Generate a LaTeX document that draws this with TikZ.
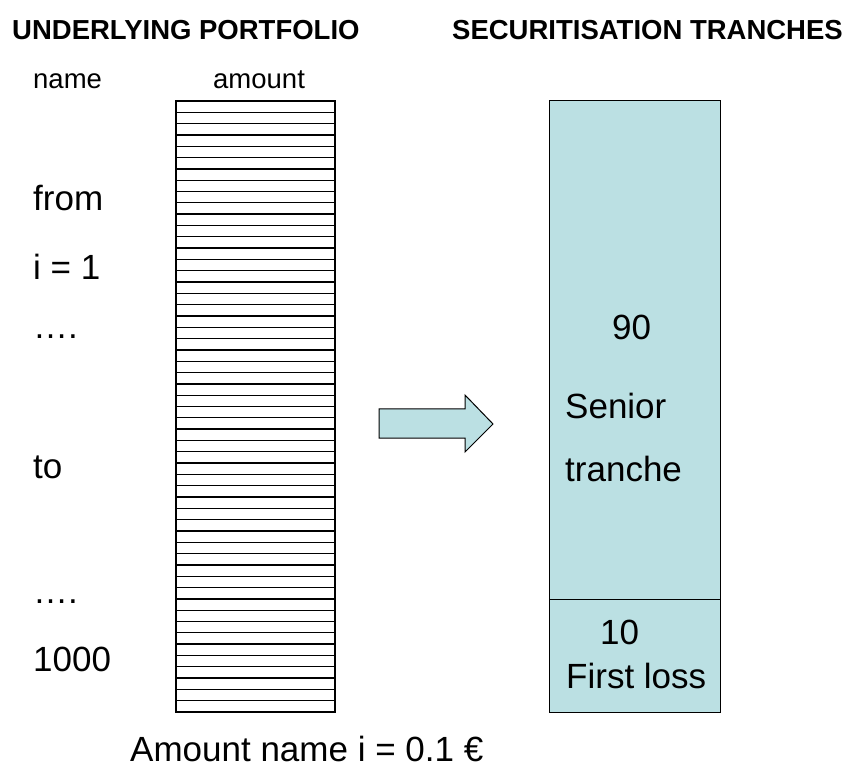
\documentclass[tikz,border=0pt]{standalone}
\usepackage{fontspec}
\setmainfont{Liberation Sans}
\definecolor{trancheblue}{RGB}{187,224,227}
\begin{document}
\begin{tikzpicture}[x=1pt, y=-1pt,
  heading/.style={anchor=base west, font=\fontsize{27.5}{33}\selectfont\bfseries},
  small/.style={anchor=base west, font=\fontsize{27.5}{33}\selectfont},
  big/.style={anchor=base west, font=\fontsize{35}{42}\selectfont}]
\useasboundingbox (0,0) rectangle (852,767);
% headings
\node (headleft) at (12,40) [heading, inner sep=0] {UNDERLYING PORTFOLIO};
\node (headright) at (452,40) [heading, inner sep=0] {SECURITISATION TRANCHES};
\node (colname) at (33,89) [small, inner sep=0] {name};
\node (colamount) at (213,89) [small, inner sep=0] {amount};
% portfolio names
\node (from) at (33,211) [big, inner sep=0] {from};
\node (first) at (33,280) [big, inner sep=0] {i = 1};
\node (dotsa) at (33,339) [big, inner sep=0] {….};
\node (to) at (33,478) [big, inner sep=0] {to};
\node (dotsb) at (33,603) [big, inner sep=0] {….};
\node (last) at (33,671) [big, inner sep=0] {1000};
% portfolio amounts, 54 stripes
\draw [line width=1.3pt, fill=white] (176,101) rectangle (335,712);
\foreach \i in {1,...,53}
  \draw [line width=1.3pt] (176,101+11.315*\i) -- (335,101+11.315*\i);
\node (amountnote) at (130,761) [big, inner sep=0] {Amount name i = 0.1 €};
% arrow
\draw [line width=1pt, fill=trancheblue] (379,409) -- (465,409) -- (465,395) -- (493,424)
  -- (465,452) -- (465,438) -- (379,438) -- cycle;
% tranches
\draw [line width=1pt, fill=trancheblue] (549,101) rectangle (720,599);
\draw [line width=1pt, fill=trancheblue] (549,599) rectangle (720,712);
\node (senioramt) at (612,340) [big, inner sep=0] {90};
\node (senior) at (565,418) [big, inner sep=0] {Senior};
\node (seniortr) at (565,481) [big, inner sep=0] {tranche};
\node (lossamt) at (600,644) [big, inner sep=0] {10};
\node (loss) at (566,688) [big, inner sep=0] {First loss};
\end{tikzpicture}
\end{document}
